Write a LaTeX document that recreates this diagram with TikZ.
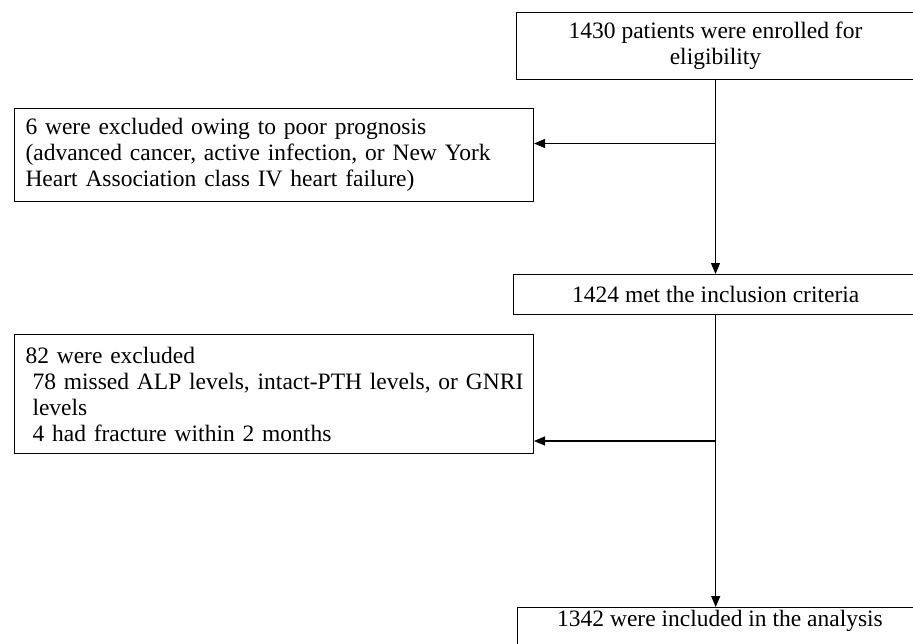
\documentclass[tikz,border=0pt]{standalone}
\usepackage{fontspec}
\setmainfont{Liberation Serif}
\usetikzlibrary{arrows.meta}
\tikzset{
  box/.style={draw=black, line width=1pt, inner ysep=0pt, inner xsep=0pt,
    font=\fontsize{23.5}{26}\selectfont, align=center, anchor=north west},
  leftbox/.style={box, align=left, inner xsep=11pt, text width=497pt},
  txt/.style={inner sep=0pt, font=\fontsize{23.5}{26}\selectfont},
  arr/.style={line width=1.1pt, -{Triangle[length=11pt,width=9pt]}},
}
\begin{document}
\begin{tikzpicture}[x=1pt,y=-1pt]
\useasboundingbox (0,0) rectangle (913,643);
\clip (0,0) rectangle (913,643);
\fill[white] (0,0) rectangle (913,643);

\node[box, minimum width=398, minimum height=67] (enrol) at (516,12)
  {1430 patients were enrolled for\\eligibility};
\node[leftbox, minimum width=519, minimum height=93] (excl1) at (14,108)
  {\mbox{6 were excluded owing to poor prognosis}\\
   \mbox{(advanced cancer, active infection, or New York}\\
   \mbox{Heart Association class IV heart failure)}};
\node[box, minimum width=405, minimum height=40] (crit) at (512.7,274)
  {1424 met the inclusion criteria};
\node[leftbox, minimum width=519, minimum height=119] (excl2) at (14,334)
  {\mbox{82 were excluded}\\
   \mbox{\hspace*{7pt}78 missed ALP levels, intact-PTH levels, or GNRI}\\
   \mbox{\hspace*{7pt}levels}\\
   \mbox{\hspace*{7pt}4 had fracture within 2 months}};
\node[box, minimum width=406, minimum height=60] (incl) at (517,607) {};
\node[txt] (inclt) at (720,621) {1342 were included in the analysis};

\coordinate (j1) at (715,143.5);
\coordinate (j2) at (715,441);

\draw[arr] (enrol.south) -- (enrol.south |- crit.north);
\draw[arr] (j1) -- (j1 -| excl1.east);
\draw[arr] (crit.south) -- (crit.south |- incl.north);
\draw[arr] (j2) -- (j2 -| excl2.east);
\end{tikzpicture}
\end{document}
